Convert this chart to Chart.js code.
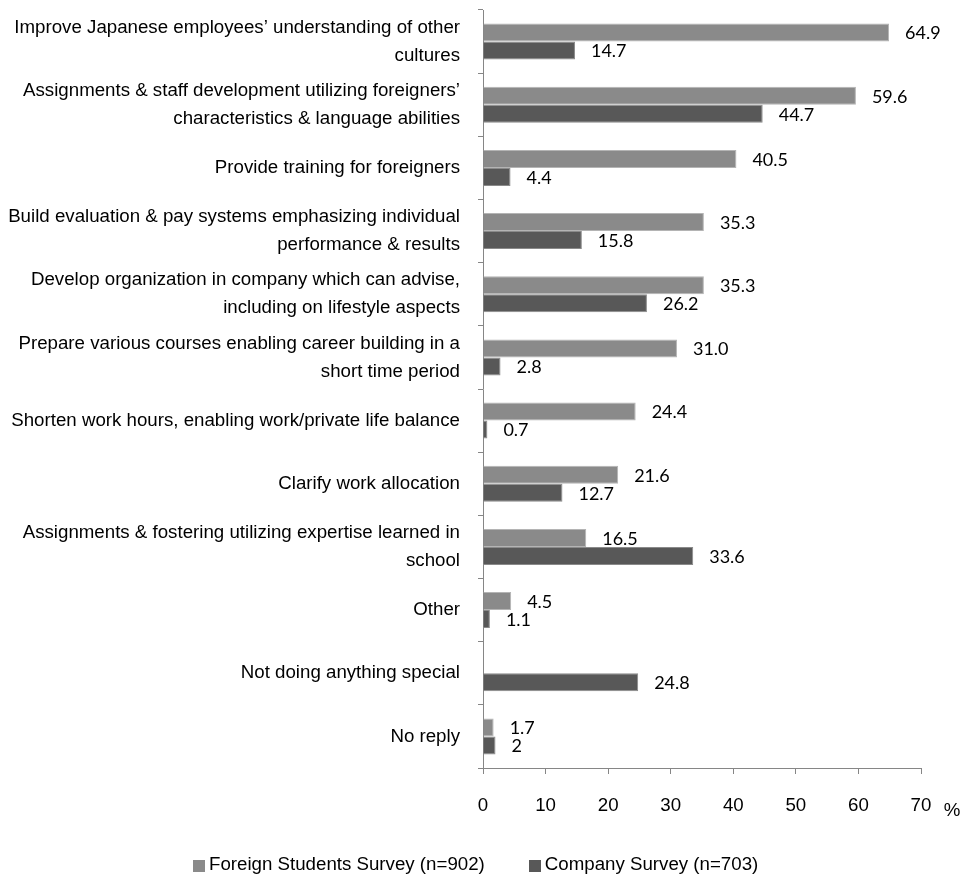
<!DOCTYPE html>
<html>
<head>
<meta charset="utf-8">
<script src="https://cdn.jsdelivr.net/npm/chart.js@4/dist/chart.umd.min.js"></script>
<style>
  html, body { margin: 0; padding: 0; background: #fff; }
  #wrap { width: 965px; height: 878px; position: relative; }
  #legend {
    position: absolute; left: 193px; top: 850px;
    display: flex; align-items: center; white-space: nowrap;
    line-height: 28px; color: #000;
  }
  #legend .item { display: flex; align-items: center; margin-right: 44px; }
  #legend .box { width: 12px; height: 12px; margin-right: 4px; position: relative; top: 2px; }
</style>
</head>
<body>
<div id="wrap"><canvas id="c"></canvas><div id="legend"></div></div>
<script>
// Measures taken to accept foreign staff (multi-line category labels)
const categories = [
  ["Improve Japanese employees\u2019 understanding of other", "cultures"],
  ["Assignments & staff development utilizing foreigners\u2019", "characteristics & language abilities"],
  "Provide training for foreigners",
  ["Build evaluation & pay systems emphasizing individual", "performance & results"],
  ["Develop organization in company which can advise,", "including on lifestyle aspects"],
  ["Prepare various courses enabling career building in a", "short time period"],
  "Shorten work hours, enabling work/private life balance",
  "Clarify work allocation",
  ["Assignments & fostering utilizing expertise learned in", "school"],
  "Other",
  "Not doing anything special",
  "No reply"
];

// Percentages as printed next to each bar
const studentLabels = ["64.9", "59.6", "40.5", "35.3", "35.3", "31.0", "24.4", "21.6", "16.5", "4.5", null, "1.7"];
const companyLabels = ["14.7", "44.7", "4.4", "15.8", "26.2", "2.8", "0.7", "12.7", "33.6", "1.1", "24.8", "2"];

const studentValues = studentLabels.map(v => v === null ? null : Number(v));
const companyValues = companyLabels.map(v => v === null ? null : Number(v));

const seriesNames = ["Foreign Students Survey (n=902)", "Company Survey (n=703)"];
const xTicks = [0, 10, 20, 30, 40, 50, 60, 70];
const unitLabel = "%";

// Prefer the narrow sans; fall back to the regular one at a matching width
function fontInstalled(name) {
  const ctx = document.createElement('canvas').getContext('2d');
  const s = "abcdefghijklmnopqrstuvwxyz ABCDEFGHIJ 0123456789";
  ctx.font = "40px monospace";
  const a = ctx.measureText(s).width;
  ctx.font = "40px '" + name + "', monospace";
  return ctx.measureText(s).width !== a;
}
const narrow = fontInstalled('Liberation Sans Narrow');
const LABEL_FAMILY = narrow ? "'Liberation Sans Narrow', 'Liberation Sans', sans-serif" : "'Liberation Sans', Arial, sans-serif";
const LABEL_SIZE = narrow ? 22.7 : 18.7;
const VALUE_FONT = "Lato, 'Open Sans', sans-serif";

const colors = ['#8a8a8a', '#585858'];
const borders = ['#b4b4b4', '#8a8a8a'];

// Writes each value just past the end of its bar
const valueLabels = {
  id: 'valueLabels',
  afterDatasetsDraw(chart) {
    const ctx = chart.ctx;
    ctx.save();
    ctx.font = "18px " + VALUE_FONT;
    ctx.fillStyle = "#000";
    ctx.textAlign = "left";
    ctx.textBaseline = "middle";
    const texts = [studentLabels, companyLabels];
    chart.data.datasets.forEach((ds, di) => {
      const meta = chart.getDatasetMeta(di);
      meta.data.forEach((bar, i) => {
        const t = texts[di][i];
        if (t === null || ds.data[i] === null) return;
        ctx.fillText(t, bar.x + 16, bar.y + 1);
      });
    });
    ctx.restore();
  }
};

// Unit sign to the right of the last x tick
const unitSign = {
  id: 'unitSign',
  afterDraw(chart) {
    const xs = chart.scales.x;
    const ctx = chart.ctx;
    ctx.save();
    ctx.font = LABEL_SIZE + "px " + LABEL_FAMILY;
    ctx.fillStyle = "#000";
    ctx.textAlign = "center";
    ctx.textBaseline = "alphabetic";
    ctx.fillText(unitLabel, xs.right + 31, xs.top + 48);
    ctx.restore();
  }
};

const chart = new Chart(document.getElementById('c'), {
  type: 'bar',
  data: {
    labels: categories,
    datasets: [
      {
        label: seriesNames[0],
        data: studentValues,
        backgroundColor: colors[0],
        borderColor: borders[0],
        borderWidth: 1,
        categoryPercentage: 0.57,
        barPercentage: 1.0
      },
      {
        label: seriesNames[1],
        data: companyValues,
        backgroundColor: colors[1],
        borderColor: borders[1],
        borderWidth: 1,
        categoryPercentage: 0.57,
        barPercentage: 1.0
      }
    ]
  },
  options: {
    indexAxis: 'y',
    responsive: true,
    maintainAspectRatio: false,
    animation: false,
    events: [],
    layout: { padding: { top: 10, right: 44, bottom: 0, left: 0 } },
    scales: {
      x: {
        min: 0,
        max: 70,
        afterBuildTicks(scale) { scale.ticks = xTicks.map(v => ({ value: v })); },
        afterFit(scale) { scale.paddingLeft = 0; scale.paddingRight = 0; scale.height = 110; },
        grid: { display: true, drawOnChartArea: false, drawTicks: true, tickLength: 6, color: '#868686', lineWidth: 1 },
        border: { display: true, color: '#868686', width: 1 },
        ticks: { color: '#000', padding: 21, maxRotation: 0, font: { family: LABEL_FAMILY, size: LABEL_SIZE } }
      },
      y: {
        afterFit(scale) { scale.width = 483; scale.paddingTop = 0; scale.paddingBottom = 0; },
        grid: { display: true, drawOnChartArea: false, drawTicks: true, tickLength: 5, color: '#868686', lineWidth: 1, offset: true },
        border: { display: true, color: '#868686', width: 1 },
        ticks: { color: '#000', padding: 18, autoSkip: false, font: { family: LABEL_FAMILY, size: LABEL_SIZE, lineHeight: 28 / LABEL_SIZE } }
      }
    },
    plugins: {
      legend: { display: false },
      tooltip: { enabled: false }
    }
  },
  plugins: [valueLabels, unitSign]
});

// Legend row built from the datasets
const legend = document.getElementById('legend');
legend.style.fontFamily = LABEL_FAMILY;
legend.style.fontSize = LABEL_SIZE + 'px';
chart.data.datasets.forEach(ds => {
  const item = document.createElement('span');
  item.className = 'item';
  const box = document.createElement('span');
  box.className = 'box';
  box.style.background = ds.backgroundColor;
  const txt = document.createElement('span');
  txt.textContent = ds.label;
  item.appendChild(box);
  item.appendChild(txt);
  legend.appendChild(item);
});
</script>
</body>
</html>
